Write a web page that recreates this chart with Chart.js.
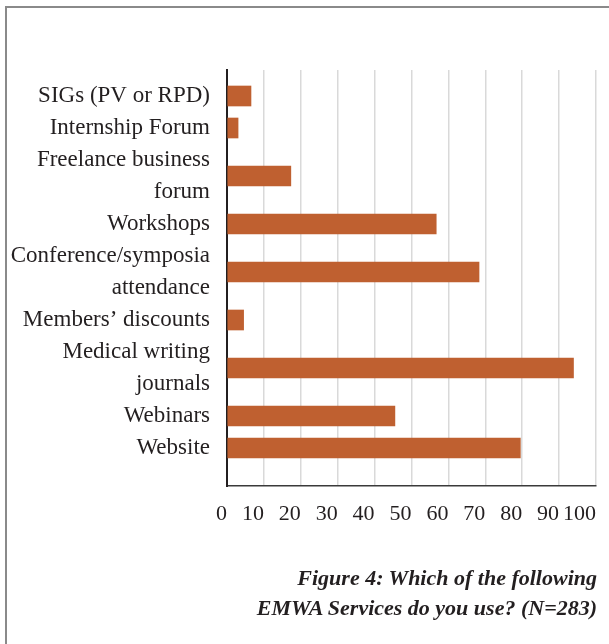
<!DOCTYPE html>
<html>
<head>
<meta charset="utf-8">
<script src="https://cdn.jsdelivr.net/npm/chart.js@4.4.1/dist/chart.umd.min.js"></script>
<style>
html, body { margin: 0; padding: 0; background: #fff; }
#wrap { position: relative; width: 609px; height: 644px; overflow: hidden; }
#frame { position: absolute; left: 5px; top: 6px; width: 700px; height: 700px;
         border-left: 2px solid #8a8a8a; border-top: 2px solid #8a8a8a; }
#myChart { position: absolute; left: 0; top: 0; }
#caption { position: absolute; right: 12px; top: 563px; text-align: right;
           font: italic bold 22px 'Liberation Serif', serif; line-height: 30px; color: #231f20; }
</style>
</head>
<body>
<div id="wrap">
  <div id="frame"></div>
  <canvas id="myChart" width="609" height="644"></canvas>
  <div id="caption">Figure 4: Which of the following<br>EMWA Services do you use? (N=283)</div>
</div>
<script>
var categories = [
  'SIGs (PV or RPD)',
  'Internship Forum',
  ['Freelance business', 'forum'],
  'Workshops',
  ['Conference/symposia', 'attendance'],
  'Members\u2019 discounts',
  ['Medical writing', 'journals'],
  'Webinars',
  'Website'
];
var usage = [6.5, 3, 17.3, 56.7, 68.3, 4.5, 93.9, 45.5, 79.5];
var xTicks = [0, 10, 20, 30, 40, 50, 60, 70, 80, 90, 100];

var barColor = '#bf6030';
var textColor = '#231f20';

// labels are stacked as text lines, each bar sits in the middle of its label block
var linePos = [];
var line = 0;
categories.forEach(function (c) {
  var n = Array.isArray(c) ? c.length : 1;
  linePos.push(line + n / 2);
  line += n;
});

var points = usage.map(function (v, i) {
  return { x: v, y: linePos[i] };
});

var ctx = document.getElementById('myChart').getContext('2d');
var myChart = new Chart(ctx, {
  type: 'bar',
  data: {
    datasets: [{
      data: points,
      backgroundColor: barColor,
      borderWidth: 0,
      barThickness: 20
    }]
  },
  options: {
    indexAxis: 'y',
    responsive: false,
    animation: false,
    devicePixelRatio: 1,
    layout: { padding: { top: 70, right: 13, bottom: 0, left: 0 } },
    plugins: { legend: { display: false }, tooltip: { enabled: false } },
    scales: {
      x: {
        type: 'linear',
        min: 0,
        max: 100,
        afterBuildTicks: function (s) {
          s.ticks = xTicks.map(function (v) { return { value: v }; });
        },
        afterFit: function (s) {
          s.height = 158;
          s.paddingLeft = 0;
          s.paddingRight = 0;
        },
        grid: { color: '#d9d9d9', lineWidth: 1.5, drawTicks: false },
        border: { color: '#3a3a3a', width: 1.5 },
        ticks: {
          padding: 15,
          align: 'end',
          autoSkip: false,
          maxRotation: 0,
          minRotation: 0,
          color: textColor,
          font: { family: "'Liberation Serif', serif", size: 22 }
        }
      },
      y: {
        type: 'linear',
        reverse: true,
        offset: false,
        min: -0.3125,
        max: 12.6875,
        afterBuildTicks: function (s) {
          s.ticks = linePos.map(function (p) { return { value: p }; });
        },
        afterFit: function (s) {
          s.width = 227;
          s.paddingTop = 0;
          s.paddingBottom = 0;
        },
        grid: { display: false, drawTicks: false, offset: false },
        border: { display: true, color: textColor, width: 2 },
        ticks: {
          autoSkip: false,
          padding: 17,
          color: textColor,
          font: { family: "'Liberation Serif', serif", size: 23, lineHeight: 32 / 23 },
          callback: function (value, index) {
            return categories[index];
          }
        }
      }
    }
  }
});
</script>
</body>
</html>
